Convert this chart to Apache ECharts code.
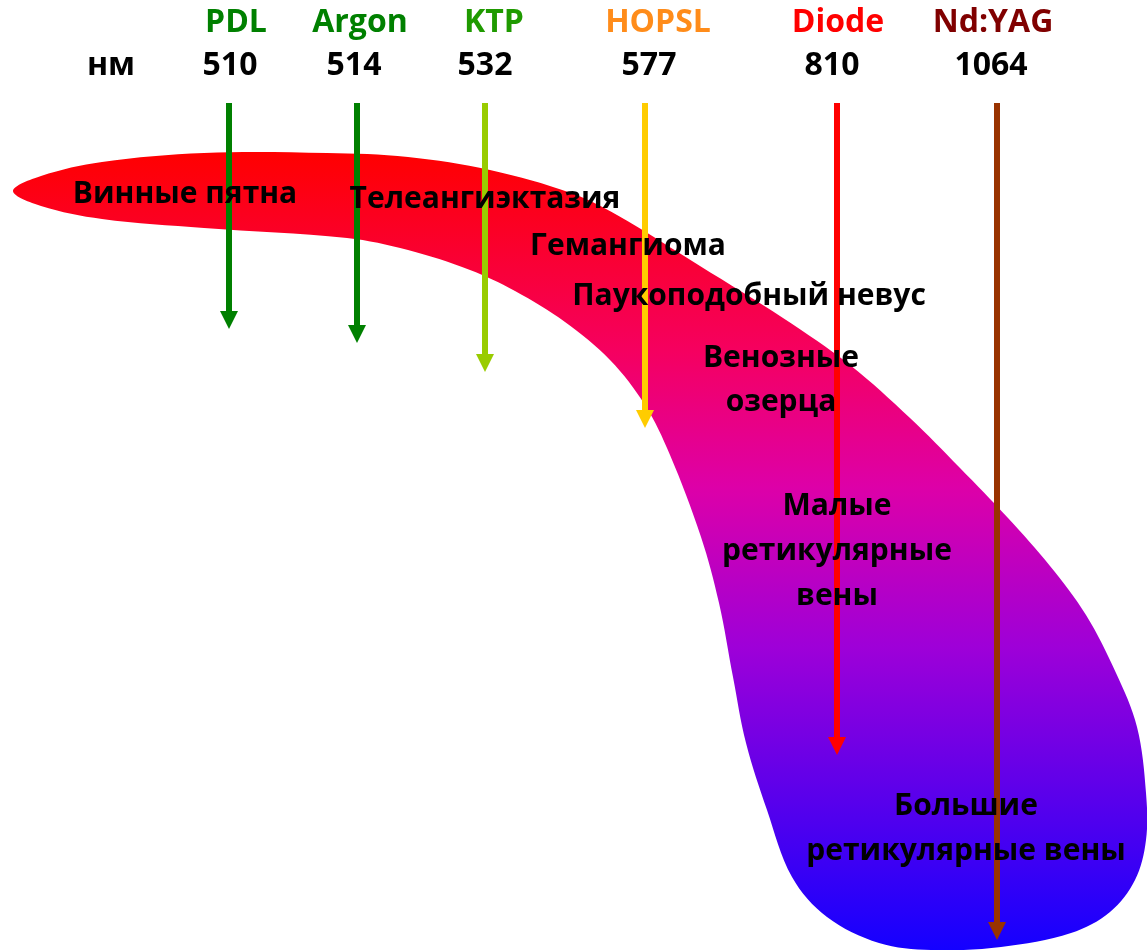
<!DOCTYPE html>
<html>
<head>
<meta charset="utf-8">
<title>Лазеры и сосудистые поражения</title>
<script src="https://cdn.jsdelivr.net/npm/echarts@6/dist/echarts.min.js"></script>
<style>
  html, body { margin: 0; padding: 0; background: #fff; }
  #chart { width: 1147px; height: 950px; }
</style>
</head>
<body>
<div id="chart"></div>
<script>
// lasers, wavelength (nm) and how deep each arrow reaches
const lasers = ['PDL', 'Argon', 'KTP', 'HOPSL', 'Diode', 'Nd:YAG'];
const wavelengths = [510, 514, 532, 577, 810, 1064];
const laserX = [229, 357, 485, 645, 837, 997];
const depth = [329, 343, 372, 428, 755, 940];

// vascular lesions
const lesions = ['Винные пятна', 'Телеангиэктазия', 'Гемангиома', 'Паукоподобный невус',
  'Венозные\nозерца', 'Малые\nретикулярные\nвены', 'Большие\nретикулярные вены'];
const lesionX = [185, 485, 628, 749, 781, 837, 966];
const lesionY = [194, 199, 246, 296, 380, 551, 829];

// outline of the coloured band (x, y)
const bandX = [13, 41, 102, 204, 327, 408, 490, 571, 617, 700, 783, 850, 910, 960, 1008, 1050, 1086, 1116,
  1137, 1146, 1146, 1135, 1110, 1071, 1001, 931, 879, 827, 792, 767, 746, 733, 719, 701, 670, 645, 610,
  565, 515, 470, 408, 347, 204, 102, 41];
const bandY = [191, 176, 162, 153, 153, 157, 170, 193, 215, 266, 318, 365, 418, 468, 518, 566, 615, 673,
  727, 793, 840, 880, 912, 933, 947, 950, 943, 917, 877, 810, 743, 677, 603, 537, 455, 405, 360,
  322, 291, 270, 250, 238, 228, 219, 206];

const nameColors = ['#008000', '#008000', '#1f9a00', '#ff8c1a', '#ff0000', '#800000'];
const arrowColors = ['#008000', '#008000', '#99cc00', '#ffcc00', '#ff0000', '#993300'];
const nameX = [236, 360, 494, 658, 838, 993];
const numX = [230, 354, 485, 649, 832, 991];

const font = '"Open Sans", Lato, sans-serif';

let chart = echarts.init(document.getElementById('chart'));

chart.setOption({
  animation: false,
  grid: { left: 0, right: 0, top: 0, bottom: 0 },
  xAxis: { type: 'value', min: 0, max: 1147, show: false },
  yAxis: { type: 'value', min: 0, max: 950, inverse: true, show: false },
  series: [
    {
      type: 'custom',
      silent: true,
      z: 1,
      data: [[0, 0]],
      renderItem: function (params, api) {
        let pts = bandX.map((x, i) => api.coord([x, bandY[i]]));
        return {
          type: 'polygon',
          shape: { points: pts, smooth: 0.35 },
          style: {
            fill: new echarts.graphic.LinearGradient(0, 0, 0, 1, [
              { offset: 0, color: '#ff0000' },
              { offset: 0.25, color: '#f50060' },
              { offset: 0.42, color: '#dd00a8' },
              { offset: 0.62, color: '#9e00d8' },
              { offset: 1, color: '#1400ff' },
            ]),
          },
        };
      },
    },
    {
      type: 'lines',
      coordinateSystem: 'cartesian2d',
      z: 3,
      symbol: ['none', 'triangle'],
      symbolSize: [18, 18],
      lineStyle: { width: 6, opacity: 1 },
      data: lasers.map((n, i) => ({
        coords: [[laserX[i], 103], [laserX[i], depth[i] - 9]],
        lineStyle: { color: arrowColors[i] },
      })),
    },
    {
      type: 'scatter',
      z: 5,
      symbolSize: 0,
      silent: true,
      itemStyle: { opacity: 1 },
      label: {
        show: true,
        position: 'inside',
        formatter: '{b}',
        color: '#000',
        fontFamily: font,
        fontWeight: 'bold',
        fontSize: 30,
      },
      data: lesions.map((t, i) => ({
        name: t,
        value: [lesionX[i], lesionY[i]],
        label: { lineHeight: i == 4 ? 44 : 45 },
      })),
    },
    {
      type: 'scatter',
      z: 5,
      symbolSize: 0,
      silent: true,
      itemStyle: { opacity: 1 },
      label: {
        show: true,
        position: 'inside',
        formatter: '{b}',
        fontFamily: font,
        fontWeight: 'bold',
        fontSize: 32,
      },
      data: lasers
        .map((n, i) => ({ name: n, value: [nameX[i], 23], label: { color: nameColors[i] } }))
        .concat(wavelengths.map((w, i) => ({ name: String(w), value: [numX[i], 66], label: { color: '#000' } })))
        .concat([{ name: 'нм', value: [111, 66], label: { color: '#000' } }]),
    },
  ],
});
</script>
</body>
</html>
